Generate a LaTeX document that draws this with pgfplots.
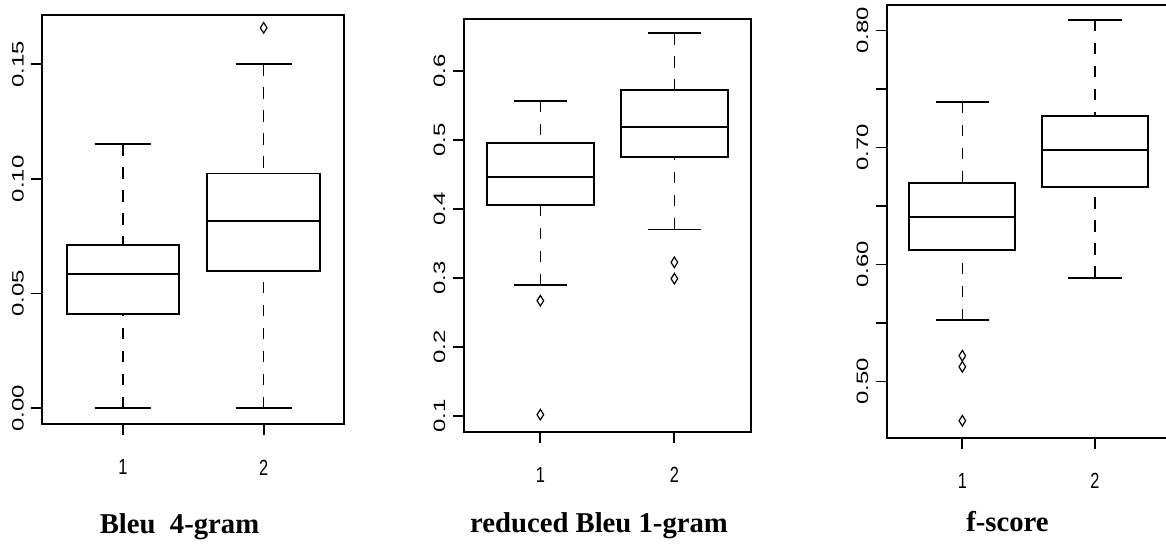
\documentclass[border=0pt]{standalone}
\usepackage{pgfplots}
\pgfplotsset{compat=1.18}
\usepgfplotslibrary{statistics}
\usepackage{fontspec}
% R's tick labels look stretched along the vertical direction
\newfontfamily\ylfont[FakeStretch=1.45]{Liberation Sans}
\newfontfamily\xlfont[FakeStretch=0.75]{Liberation Sans}
\newfontfamily\tfont{Liberation Serif}

\pgfplotsset{
  rbox/.style={
    scale only axis, anchor=south west,
    /pgf/number format/assume math mode=true,
    axis line style={line width=1.8pt},
    tick pos=left, tick align=outside, major tick length=11pt,
    every tick/.style={black, line width=1.8pt},
    xtick={1,2}, xticklabels={1,2},
    xticklabel style={font=\xlfont\fontsize{21.9}{21.9}\selectfont, yshift=-21pt},
    yticklabel style={font=\ylfont\fontsize{16.5}{16.5}\selectfont, xshift=-4pt, rotate=90, anchor=south},
    boxplot/draw direction=y,
    boxplot/box extend=0.8,
    boxplot/whisker extend=0.4,
    boxplot/every box/.style={line width=1.8pt},
    boxplot/every median/.style={line width=1.8pt},
    boxplot/draw/lower whisker/.code={
      \draw[line width=1.5pt, dash pattern=on 11.5pt off 11.5pt]
        (boxplot cs:\pgfplotsboxplotvalue{lower whisker}) -- (boxplot cs:\pgfplotsboxplotvalue{lower quartile});
      \draw[line width=1.8pt]
        (boxplot whisker cs:\pgfplotsboxplotvalue{lower whisker},0) -- (boxplot whisker cs:\pgfplotsboxplotvalue{lower whisker},1);
    },
    boxplot/draw/upper whisker/.code={
      \draw[line width=1.5pt, dash pattern=on 11.5pt off 11.5pt]
        (boxplot cs:\pgfplotsboxplotvalue{upper whisker}) -- (boxplot cs:\pgfplotsboxplotvalue{upper quartile});
      \draw[line width=1.8pt]
        (boxplot whisker cs:\pgfplotsboxplotvalue{upper whisker},0) -- (boxplot whisker cs:\pgfplotsboxplotvalue{upper whisker},1);
    },
  },
  rplot/.style={black, solid, mark=diamond, mark size=5.3pt, mark options={xscale=0.83, line width=1.2pt, solid}},
}

\begin{document}
\begin{tikzpicture}

% Bleu 4-gram
\begin{axis}[rbox, at={(42.3pt,119.7pt)}, width=301.7pt, height=409.3pt,
  xmin=0.4265, xmax=2.571, ymin=-0.0071, ymax=0.1715,
  ytick={0,0.05,0.10,0.15}, yticklabels={0.00,0.05,0.10,0.15}]
\addplot[rplot, boxplot prepared={draw position=1,
  lower whisker=0, lower quartile=0.0409, median=0.0586,
  upper quartile=0.0710, upper whisker=0.1152}] coordinates {};
\addplot[rplot, boxplot prepared={draw position=2,
  lower whisker=0, lower quartile=0.0598, median=0.0816,
  upper quartile=0.1023, upper whisker=0.150}]
  table[row sep=\\, y index=0] {data\\ 0.1659\\};
\end{axis}

% reduced Bleu 1-gram
\begin{axis}[rbox, at={(463.7pt,112.3pt)}, width=287.3pt, height=412.7pt,
  xmin=0.428, xmax=2.572, ymin=0.0768, ymax=0.675,
  ytick={0.1,0.2,0.3,0.4,0.5,0.6}, yticklabels={0.1,0.2,0.3,0.4,0.5,0.6}]
\addplot[rplot, boxplot prepared={draw position=1,
  lower whisker=0.289, lower quartile=0.405, median=0.4455,
  upper quartile=0.4948, upper whisker=0.5565}]
  table[row sep=\\, y index=0] {data\\ 0.2667\\ 0.1015\\};
\addplot[rplot, boxplot prepared={draw position=2,
  lower whisker=0.370, lower quartile=0.4754, median=0.5184,
  upper quartile=0.5716, upper whisker=0.6546}]
  table[row sep=\\, y index=0] {data\\ 0.3223\\ 0.2986\\};
\end{axis}

% f-score
\begin{axis}[rbox, at={(886.7pt,106.3pt)}, width=283.9pt, height=432.8pt,
  xmin=0.43, xmax=2.57, ymin=0.4519, ymax=0.8219,
  ytick={0.50,0.55,0.60,0.65,0.70,0.75,0.80}, yticklabels={0.50,,0.60,,0.70,,0.80}]
\addplot[rplot, boxplot prepared={draw position=1,
  lower whisker=0.5525, lower quartile=0.6125, median=0.6404,
  upper quartile=0.6695, upper whisker=0.7391}]
  table[row sep=\\, y index=0] {data\\ 0.522\\ 0.5125\\ 0.4664\\};
\addplot[rplot, boxplot prepared={draw position=2,
  lower whisker=0.5887, lower quartile=0.6659, median=0.698,
  upper quartile=0.7267, upper whisker=0.8091}] coordinates {};
\end{axis}

\node[anchor=base, font=\tfont\bfseries\fontsize{28.7}{30}\selectfont] at (179.5pt,11pt) {Bleu~ 4-gram};
\node[anchor=base, font=\tfont\bfseries\fontsize{28.7}{30}\selectfont] at (599pt,12pt) {reduced Bleu 1-gram};
\node[anchor=base, font=\tfont\bfseries\fontsize{28.7}{30}\selectfont] at (1007.5pt,13pt) {f-score};

\pgfresetboundingbox
\useasboundingbox (0pt,0pt) rectangle (1166pt,544pt);
\end{tikzpicture}
\end{document}
